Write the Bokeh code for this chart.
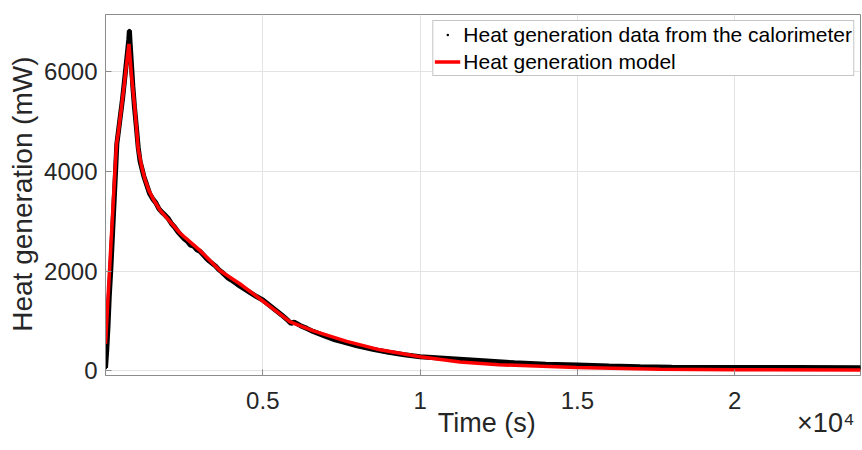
import math
from bokeh.plotting import figure
from bokeh.models import Range1d, FixedTicker, Legend, LegendItem, LinearAxis
from bokeh.embed import file_html
from bokeh.resources import INLINE

# ---- data ----
data_t = [0, 40, 80, 120, 170, 220, 270, 320, 360, 420, 480, 540, 600, 650, 700, 740, 760,
          780, 820, 870, 920, 980, 1040, 1100, 1160, 1220, 1300, 1400, 1500, 1600, 1700,
          1800, 1900, 2000, 2100, 2200, 2300, 2400, 2500, 2600, 2700, 2800, 2900, 3000,
          3100, 3200, 3300, 3400, 3500, 3600, 3700, 3800, 3900, 4000, 4200, 4400, 4600,
          4800, 5000, 5200, 5400, 5600, 5800, 5900, 6000, 6200, 6400, 6600, 6800, 7000,
          7300, 7600, 8000, 8500, 9000, 9500, 10000, 11000, 12000, 13000, 14000, 15000,
          16000, 17000, 18000, 20000, 22000, 24000]
data_v = [60, 420, 900, 1500, 2050, 2700, 3350, 4000, 4550, 4850, 5150, 5450, 5800, 6100,
          6400, 6650, 6830, 6600, 6200, 5700, 5300, 4900, 4480, 4200, 4050, 3900, 3750,
          3560, 3450, 3370, 3250, 3180, 3120, 3050, 2950, 2880, 2790, 2720, 2650, 2600,
          2520, 2500, 2430, 2400, 2330, 2260, 2200, 2150, 2100, 2030, 1980, 1920, 1860,
          1820, 1730, 1650, 1570, 1490, 1420, 1320, 1220, 1120, 1010, 950, 975, 905, 850,
          790, 740, 690, 620, 570, 500, 430, 370, 320, 280, 240, 200, 160, 130, 114, 95,
          80, 72, 68, 65, 62]

model_t = [0, 100, 200, 300, 350, 400, 500, 600, 700, 745, 830, 934, 1039, 1150, 1251,
           1380, 1515, 1738, 2045, 2373, 3009, 3644, 4279, 4915, 5550, 5868, 6608, 7669,
           8727, 9998, 11268, 12500, 14976, 17623, 20000, 24000]
model_v = [540, 1700, 2850, 4000, 4550, 4750, 5250, 5765, 6320, 6560, 5900, 5255, 4452,
           4100, 3849, 3620, 3448, 3220, 3000, 2760, 2410, 2008, 1741, 1440, 1138, 980,
           800, 590, 420, 280, 175, 120, 67, 30, 20, 15]

x_ticks = [5000, 10000, 15000, 20000]
x_tick_labels = ["0.5", "1", "1.5", "2"]
y_ticks = [0, 2000, 4000, 6000]
x_title = "Time (s)"
x_multiplier = "×10⁴"
y_title_parts = ["Heat generation", "(mW)"]
y_title_pos = [4782, 6307]          # upper ends of the two parts of the y title (data units)
x_title_pos = [12117, 22897]        # centres of "Time (s)" and "×10⁴" (data units)

FONT = "Liberation Sans"
TXT = "#262626"
AX = "#8c8c8c"
SHIFT = 13   # canvas starts this many px left of the page edge, to give the y title room

p = figure(width=862 + SHIFT, height=450, output_backend="svg", toolbar_location=None,
           x_range=Range1d(0, 24000), y_range=Range1d(-95, 7150),
           min_border_left=105 + SHIFT, min_border_top=14, min_border_right=2,
           min_border_bottom=75)
p.styles = {"margin-left": f"-{SHIFT}px"}
p.background_fill_color = "white"
p.border_fill_color = "white"
p.outline_line_color = AX

p.line(data_t, data_v, line_width=5, color="black")
dots = p.scatter(data_t, data_v, marker="dot", size=14, color="black")
red = p.line(model_t, model_v, line_width=3.5, color="#ff0000")

# axes
p.xaxis.ticker = FixedTicker(ticks=x_ticks)
p.xaxis.major_label_overrides = {t: l for t, l in zip(x_ticks, x_tick_labels)}
p.yaxis.ticker = FixedTicker(ticks=y_ticks)
p.xgrid.ticker = FixedTicker(ticks=x_ticks)
p.ygrid.ticker = FixedTicker(ticks=y_ticks)
p.yaxis.formatter.use_scientific = False

for ax in (p.xaxis[0], p.yaxis[0]):
    ax.axis_line_color = AX
    ax.major_tick_line_color = AX
    ax.minor_tick_line_color = None
    ax.major_tick_in = 6
    ax.major_tick_out = 0
    ax.major_label_text_font = FONT
    ax.major_label_text_font_size = "24px"
    ax.major_label_text_color = TXT
p.xaxis.major_label_standoff = 16
p.yaxis.major_label_standoff = 8


def text_axis(ticks, labels, size, standoff, orientation="horizontal"):
    a = LinearAxis(ticker=FixedTicker(ticks=ticks),
                   major_label_overrides={t: l for t, l in zip(ticks, labels)})
    a.axis_line_color = None
    a.major_tick_line_color = None
    a.minor_tick_line_color = None
    a.major_tick_in = 0
    a.major_tick_out = 0
    a.major_label_standoff = standoff
    a.major_label_text_font = FONT
    a.major_label_text_font_size = size
    a.major_label_text_color = TXT
    a.major_label_orientation = orientation
    return a


# second row below the x axis: title and the x10^4 multiplier
p.add_layout(text_axis(x_title_pos, [x_title, x_multiplier], "27px", -4), "below")
# y title, in two parts so that the rotated text is drawn whole
p.add_layout(text_axis(y_title_pos, y_title_parts, "28px", 19, math.pi / 2), "left")

p.xgrid.grid_line_color = "#e3e3e3"
p.ygrid.grid_line_color = "#e3e3e3"

legend = Legend(items=[
    LegendItem(label="Heat generation data from the calorimeter", renderers=[dots]),
    LegendItem(label="Heat generation model", renderers=[red]),
], location="top_right")
legend.label_text_font = FONT
legend.label_text_font_size = "21px"
legend.label_text_color = "black"
legend.border_line_color = AX
legend.border_line_width = 1
legend.background_fill_color = "white"
legend.background_fill_alpha = 1
legend.margin = 6
legend.padding = 1
legend.spacing = 2
legend.glyph_width = 26
legend.glyph_height = 25
legend.label_height = 25
legend.label_standoff = 3
p.add_layout(legend)

open("out.html", "w").write(file_html(p, INLINE))
